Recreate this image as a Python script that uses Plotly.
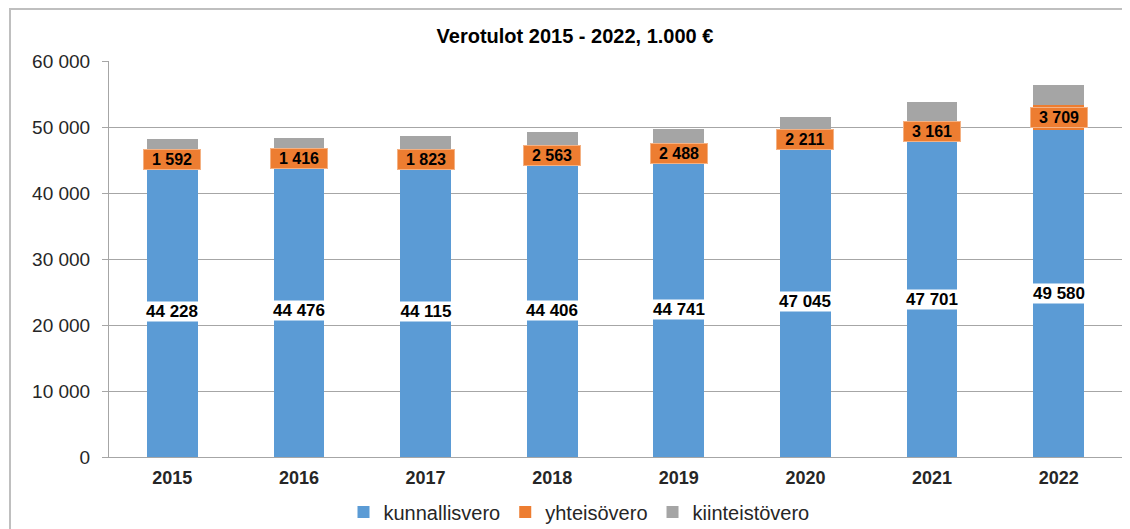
import plotly.graph_objects as go

years = ["2015", "2016", "2017", "2018", "2019", "2020", "2021", "2022"]
kunnallisvero = [44228, 44476, 44115, 44406, 44741, 47045, 47701, 49580]
yhteisovero = [1592, 1416, 1823, 2563, 2488, 2211, 3161, 3709]
kiinteistovero = [2360, 2490, 2700, 2270, 2470, 2300, 2880, 3070]

BLUE = "#5B9BD5"
ORANGE = "#ED7D31"
GRAY = "#A5A5A5"

W, H = 1130, 529
# the page offsets the figure by ~8px, so margins are set 8px smaller
L, R, T, B = 101, 16, 53, 80


def fmt(v):
    return f"{v:,}".replace(",", " ")


fig = go.Figure()
for name, vals, color in [
    ("kunnallisvero", kunnallisvero, BLUE),
    ("yhteisövero", yhteisovero, ORANGE),
    ("kiinteistövero", kiinteistovero, GRAY),
]:
    fig.add_trace(go.Bar(
        x=years, y=vals, name=name,
        marker=dict(color=color, line=dict(width=0)),
        hoverinfo="skip",
    ))

# data labels (x as category index, since the years look numeric)
for i, (k, y) in enumerate(zip(kunnallisvero, yhteisovero)):
    fig.add_annotation(
        x=i, y=k / 2, text=f"<b>{fmt(k)}</b>", showarrow=False,
        font=dict(family="Arial, Liberation Sans", size=17, color="black"),
        bgcolor="white", borderpad=0, width=60,
    )
    fig.add_annotation(
        x=i, y=k + y / 2, text=f"<b>{fmt(y)}</b>", showarrow=False,
        font=dict(family="Arial, Liberation Sans", size=16, color="black"),
        bgcolor=ORANGE, bordercolor="#F4B183", borderwidth=1, borderpad=1, width=54,
    )

pw, ph = W - L - R, H - T - B
fig.add_shape(
    type="rect", xref="paper", yref="paper", layer="below",
    x0=(2 - L) / pw, x1=(W + 10 - L) / pw,
    y0=(H - B - (H + 10)) / ph, y1=(H - B - 1) / ph,
    line=dict(color="#BFBFBF", width=2),
)

fig.update_layout(
    width=W, height=H,
    margin=dict(l=L, r=R, t=T, b=B, autoexpand=False),
    barmode="stack", bargap=0.6,
    separators=", ",
    plot_bgcolor="white", paper_bgcolor="white",
    font=dict(family="Arial, Liberation Sans", color="black"),
    title=dict(
        text="<b>Verotulot 2015 - 2022, 1.000 €</b>",
        x=(567 - L) / pw, xref="paper", xanchor="center",
        y=1 - 28 / H, yanchor="middle",
        font=dict(family="Arial, Liberation Sans", size=20, color="black"),
    ),
    legend=dict(
        orientation="h", x=(571 - L) / pw, xanchor="center",
        yref="container", y=1 - 504 / H, yanchor="middle",
        font=dict(size=20, color="#262626"), traceorder="normal",
        itemwidth=30,
    ),
)
fig.update_yaxes(
    range=[0, 60000], dtick=10000, tickformat=",d",
    showgrid=True, gridcolor="#A6A6A6", gridwidth=1,
    showline=True, linecolor="#A6A6A6", linewidth=1,
    ticks="outside", ticklen=6, tickcolor="#A6A6A6",
    ticklabelstandoff=8, automargin=False,
    tickfont=dict(size=19, color="#262626"), zeroline=False,
)
fig.update_xaxes(
    type="category", automargin=False,
    showline=True, linecolor="#A6A6A6", linewidth=1,
    ticklabelstandoff=4,
    tickfont=dict(size=18, color="#262626"),
    tickprefix="<b>", ticksuffix="</b>",
)

fig.write_html("out.html")
